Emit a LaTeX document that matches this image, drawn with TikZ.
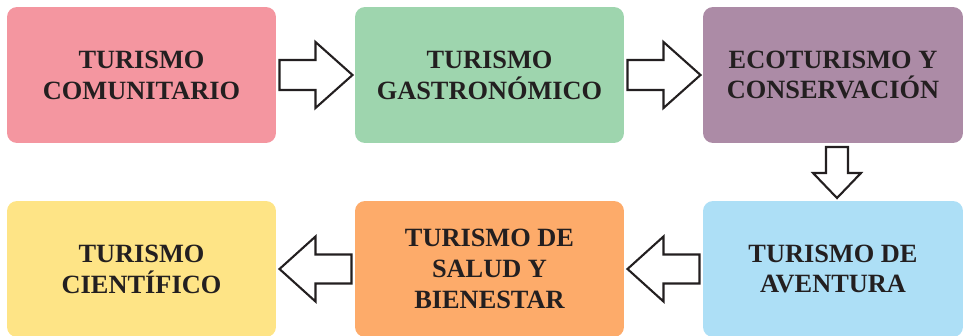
\documentclass[tikz,border=0pt]{standalone}
\usepackage{fontspec}
\setmainfont{Liberation Serif}
\usetikzlibrary{calc,positioning}

\definecolor{rosa}{RGB}{244,150,160}
\definecolor{verde}{RGB}{158,213,174}
\definecolor{lila}{RGB}{172,139,166}
\definecolor{celeste}{RGB}{173,223,246}
\definecolor{naranja}{RGB}{253,171,106}
\definecolor{amarillo}{RGB}{254,228,134}
\definecolor{tinta}{RGB}{35,31,32}

\begin{document}
\begin{tikzpicture}[x=0.02cm,y=-0.02cm,
    caja/.style={rounded corners=0.2cm,minimum width=5.38cm,minimum height=2.72cm,align=center,
        font=\fontsize{15}{17.6}\selectfont\bfseries,text=tinta},
    bloque/.style={draw=tinta,fill=white,line width=1.2pt,line join=miter}]
    \useasboundingbox (0,0) rectangle (964,335);
    % fila de arriba
    \node[caja,fill=rosa](comunitario) at (141.5,75){TURISMO\\COMUNITARIO};
    \node[caja,fill=verde](gastronomico) at (489.5,75){TURISMO\\GASTRONÓMICO};
    \node[caja,fill=lila,minimum width=5.2cm](ecoturismo) at (833,75){ECOTURISMO Y\\CONSERVACIÓN};
    % fila de abajo
    \node[caja,fill=celeste,minimum width=5.2cm](aventura) at (833,269){TURISMO DE\\AVENTURA};
    \node[caja,fill=naranja](salud) at (489.5,269){TURISMO DE\\SALUD Y\\BIENESTAR};
    \node[caja,fill=amarillo](cientifico) at (141.5,269){TURISMO\\CIENTÍFICO};
    % flechas
    \path (comunitario.east)--(gastronomico.west) coordinate[midway] (f1);
    \path (gastronomico.east)--(ecoturismo.west) coordinate[midway] (f2);
    \path (ecoturismo.south)--(aventura.north) coordinate[midway] (f3);
    \path (aventura.west)--(salud.east) coordinate[midway] (f4);
    \path (salud.west)--(cientifico.east) coordinate[midway] (f5);
    \foreach \f in {f1,f2}
        \draw[bloque,shift={(\f)}](-36,-15)--(0,-15)--(0,-33)--(37,0)--(0,33)--(0,15)--(-36,15)--cycle;
    \draw[bloque,shift={($(f3)+(4,0)$)}](-11,-25)--(11,-25)--(11,1)--(24,1)--(0,26)--(-24,1)--(-11,1)--cycle;
    \foreach \f in {f4,f5}
        \draw[bloque,shift={(\f)}](36,-14.5)--(0,-14.5)--(0,-32.5)--(-36,0)--(0,32.5)--(0,14.5)--(36,14.5)--cycle;
\end{tikzpicture}
\end{document}
